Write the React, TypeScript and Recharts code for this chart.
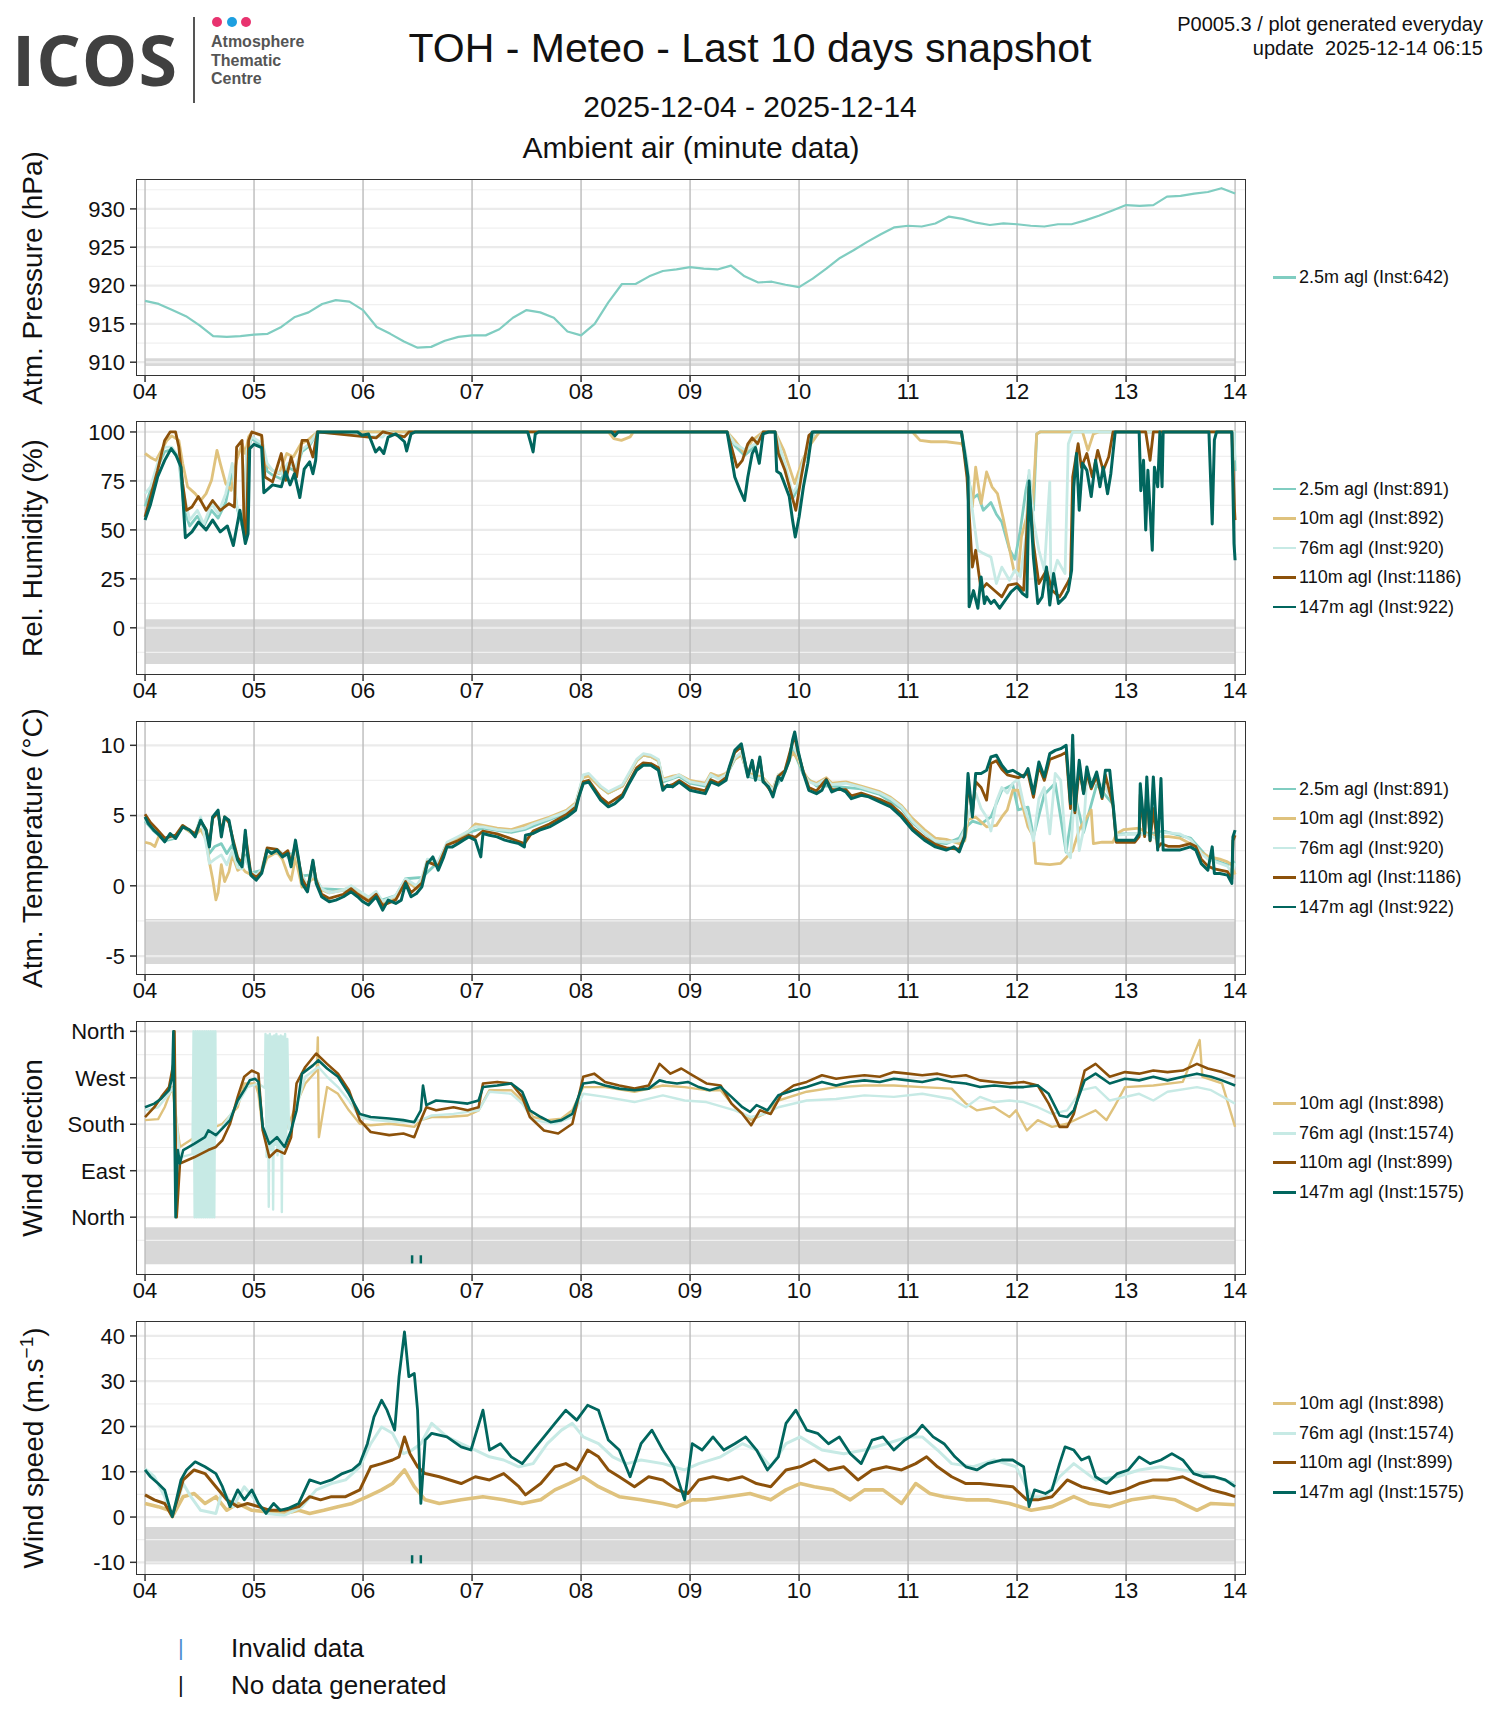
import React from "react";
import {
  LineChart,
  Line,
  XAxis,
  YAxis,
  ReferenceLine,
  ReferenceArea,
} from "recharts";

// ---- axis ticks / labels ----
const DAY_TICKS = [0, 1, 2, 3, 4, 5, 6, 7, 8, 9, 10];
const DAY_LABELS = ["04", "05", "06", "07", "08", "09", "10", "11", "12", "13", "14"];
const WD_TICKS = [0, 90, 180, 270, 360];
const WD_LABELS = ["North", "East", "South", "West", "North"];

// colours per height (BrBG)
const C25 = "#80cdc1";
const C10 = "#dfc27d";
const C76 = "#c7eae5";
const C110 = "#8c510a";
const C147 = "#01665e";

// ---- Atm. pressure (hPa), [day, value] ----
const P_25 = [
  [0, 918.0], [0.125, 917.6], [0.25, 916.8], [0.375, 916.0], [0.5, 914.8], [0.625, 913.4], [0.75, 913.3],
  [0.875, 913.4], [1.0, 913.6], [1.125, 913.7], [1.25, 914.6], [1.375, 915.9], [1.5, 916.5], [1.625, 917.6],
  [1.75, 918.1], [1.875, 917.9], [2.0, 916.8], [2.125, 914.6], [2.25, 913.7], [2.375, 912.7], [2.5, 911.9],
  [2.625, 912.0], [2.75, 912.8], [2.875, 913.3], [3.0, 913.5], [3.125, 913.5], [3.25, 914.3], [3.375, 915.8],
  [3.5, 916.8], [3.625, 916.5], [3.75, 915.8], [3.875, 914.0], [4.0, 913.5], [4.125, 915.0], [4.25, 917.8],
  [4.375, 920.2], [4.5, 920.2], [4.625, 921.2], [4.75, 921.9], [4.875, 922.1], [5.0, 922.4], [5.125, 922.2],
  [5.25, 922.1], [5.375, 922.6], [5.5, 921.2], [5.625, 920.4], [5.75, 920.5], [5.875, 920.1], [6.0, 919.8],
  [6.125, 920.9], [6.25, 922.2], [6.375, 923.6], [6.5, 924.6], [6.625, 925.7], [6.75, 926.7], [6.875, 927.6],
  [7.0, 927.8], [7.125, 927.7], [7.25, 928.1], [7.375, 929.0], [7.5, 928.7], [7.625, 928.2], [7.75, 927.9],
  [7.875, 928.1], [8.0, 928.0], [8.125, 927.8], [8.25, 927.7], [8.375, 928.0], [8.5, 928.0], [8.625, 928.5],
  [8.75, 929.1], [8.875, 929.8], [9.0, 930.5], [9.125, 930.4], [9.25, 930.5], [9.375, 931.6], [9.5, 931.7],
  [9.625, 932.0], [9.75, 932.2], [9.875, 932.7], [10.0, 932.0],
];

// ---- Rel. humidity (%) ----
const RH_25 = [
  [0, 62], [0.05, 70], [0.115, 82], [0.18, 90], [0.245, 91], [0.31, 86], [0.36, 60], [0.41, 52], [0.48, 57],
  [0.54, 52], [0.61, 60], [0.67, 56], [0.74, 64], [0.8, 80], [0.84, 62], [0.9, 50], [0.935, 90], [0.98, 97],
  [1.08, 92], [1.12, 80], [1.17, 78], [1.25, 76], [1.31, 82], [1.38, 80], [1.44, 90], [1.51, 93], [1.58, 100],
  [5.34, 100], [5.41, 93], [5.5, 88], [5.6, 93], [5.67, 100], [5.78, 100], [5.87, 82], [5.94, 66], [5.98, 70],
  [6.04, 84], [6.11, 95], [6.14, 100], [7.49, 100], [7.54, 80], [7.59, 66], [7.64, 68], [7.69, 60], [7.76, 64],
  [7.81, 58], [7.86, 54], [7.93, 40], [7.98, 35], [8.03, 50], [8.08, 70], [8.11, 78], [8.15, 60], [8.18, 99],
  [8.21, 100], [9.99, 100], [10.0, 80],
];
const RH_10 = [
  [0, 89], [0.05, 87], [0.1, 85.5], [0.15, 90.6], [0.2, 95.7], [0.245, 98], [0.31, 95.7], [0.345, 84], [0.39, 72],
  [0.46, 68.5], [0.51, 65], [0.56, 68.5], [0.61, 75.3], [0.66, 90.6], [0.69, 84], [0.74, 73.6], [0.79, 70.2],
  [0.84, 85.5], [0.89, 94], [0.92, 89], [0.95, 97.5], [0.98, 100], [1.07, 98], [1.1, 84], [1.17, 80.4],
  [1.23, 78.7], [1.3, 89], [1.36, 87.2], [1.43, 94], [1.49, 95.7], [1.58, 100], [4.25, 100], [4.3, 96.6],
  [4.37, 95.7], [4.45, 97.5], [4.48, 100], [5.34, 100], [5.41, 95.7], [5.5, 89], [5.57, 95.7], [5.67, 100],
  [5.78, 100], [5.86, 90.6], [5.96, 73.6], [6.03, 85.5], [6.11, 94], [6.16, 98], [6.19, 100], [7.04, 100],
  [7.11, 95.7], [7.21, 95], [7.35, 95], [7.49, 94], [7.52, 90.6], [7.55, 77], [7.59, 61.7], [7.62, 82],
  [7.67, 63.4], [7.72, 79.6], [7.77, 72], [7.82, 68.5], [7.87, 56.6], [7.92, 43], [7.97, 29.4], [8.01, 27.7],
  [8.04, 46.4], [8.08, 55], [8.11, 61.7], [8.14, 60], [8.18, 99], [8.21, 100], [8.6, 100], [8.65, 90.6],
  [8.7, 99], [8.75, 100], [10.0, 100],
];
const RH_76 = [
  [0, 68.5], [0.05, 72], [0.115, 84], [0.18, 92.3], [0.245, 92.3], [0.31, 87.2], [0.36, 67], [0.41, 55],
  [0.48, 60], [0.54, 53], [0.61, 63.4], [0.67, 58.3], [0.74, 68.5], [0.8, 84], [0.84, 63], [0.9, 51.5],
  [0.935, 90.6], [0.98, 97.5], [1.08, 94], [1.12, 84], [1.17, 80.4], [1.25, 78.7], [1.31, 84], [1.38, 82],
  [1.44, 91], [1.51, 94], [1.58, 100], [2.18, 97.4], [2.22, 100], [2.38, 97.5], [2.42, 100], [5.34, 100],
  [5.41, 94], [5.5, 91], [5.6, 94], [5.67, 100], [5.78, 100], [5.87, 84], [5.94, 68.5], [5.98, 72], [6.04, 85.5],
  [6.11, 96], [6.14, 100], [7.49, 100], [7.54, 85.5], [7.59, 60], [7.64, 39.6], [7.69, 38], [7.76, 36.2],
  [7.81, 22.6], [7.86, 31], [7.93, 24.3], [7.98, 29.4], [8.03, 26], [8.08, 46.4], [8.11, 80.4], [8.15, 55],
  [8.2, 39.6], [8.25, 29.4], [8.3, 74.5], [8.31, 22.6], [8.37, 34.5], [8.44, 27.7], [8.47, 94], [8.51, 100],
  [9.99, 100], [10.0, 85.5],
];
const RH_110 = [
  [0, 56.6], [0.05, 67], [0.115, 80.4], [0.18, 95.7], [0.23, 100], [0.28, 100], [0.31, 92.3], [0.345, 73.6],
  [0.38, 60], [0.43, 61.7], [0.49, 67], [0.56, 60], [0.62, 65], [0.69, 60], [0.77, 63.4], [0.82, 61.7],
  [0.84, 92.3], [0.89, 95.7], [0.91, 50], [0.93, 46.4], [0.95, 95.7], [0.98, 100], [1.07, 98.3], [1.1, 77],
  [1.17, 74.5], [1.25, 89], [1.29, 75.3], [1.34, 87.2], [1.39, 77], [1.44, 95.7], [1.49, 95.7], [1.54, 87.2],
  [1.58, 100], [2.12, 97], [2.18, 100], [2.38, 97.5], [2.42, 100], [5.34, 100], [5.38, 92.3], [5.43, 82],
  [5.48, 85.5], [5.53, 94], [5.57, 97], [5.62, 94], [5.67, 100], [5.78, 100], [5.81, 89], [5.87, 80.4],
  [5.92, 70.2], [5.97, 60], [6.02, 77], [6.09, 98.3], [6.13, 100], [7.49, 100], [7.54, 77], [7.59, 31],
  [7.62, 39.6], [7.67, 19.2], [7.72, 22.6], [7.79, 19.2], [7.86, 15.8], [7.92, 21.8], [7.996, 22.6],
  [8.06, 19.2], [8.11, 72], [8.15, 43], [8.2, 22.6], [8.27, 29.4], [8.32, 19.2], [8.39, 15.8], [8.46, 22.6],
  [8.49, 26], [8.51, 77], [8.56, 94], [8.59, 82], [8.64, 89], [8.69, 77], [8.74, 90.6], [8.79, 80.4],
  [8.84, 87.2], [8.88, 100], [9.18, 100], [9.22, 85.5], [9.25, 100], [9.97, 100], [9.995, 60], [10.0, 55],
];
const RH_147 = [
  [0, 55], [0.05, 63], [0.115, 77], [0.18, 85.5], [0.24, 91.5], [0.285, 88], [0.33, 82], [0.37, 46], [0.43, 49],
  [0.49, 54], [0.56, 50], [0.62, 55], [0.69, 49], [0.755, 52], [0.81, 42], [0.87, 60], [0.92, 43], [0.945, 48],
  [0.96, 91.5], [1.0, 93.7], [1.07, 92], [1.09, 69], [1.17, 73], [1.25, 72], [1.29, 79.6], [1.33, 73],
  [1.37, 78.7], [1.42, 66.5], [1.46, 81], [1.51, 84.7], [1.54, 78.7], [1.565, 85.5], [1.585, 100], [1.95, 100],
  [1.99, 98.3], [2.05, 99], [2.115, 89.8], [2.15, 92], [2.19, 89], [2.23, 97.4], [2.3, 99], [2.38, 95],
  [2.4, 90.3], [2.44, 99], [2.48, 100], [3.51, 100], [3.54, 94], [3.56, 89.8], [3.58, 99], [3.61, 100],
  [4.28, 100], [4.31, 98], [4.34, 100], [5.34, 100], [5.38, 87], [5.41, 77], [5.46, 70], [5.5, 65], [5.53, 77],
  [5.57, 89], [5.6, 92], [5.635, 84], [5.67, 99], [5.72, 100], [5.78, 100], [5.795, 80], [5.83, 78.7],
  [5.86, 74.5], [5.91, 67], [5.94, 55], [5.965, 46.4], [6.0, 56.6], [6.04, 72], [6.08, 84], [6.12, 100],
  [7.49, 100], [7.52, 89], [7.55, 77], [7.56, 10.7], [7.6, 19], [7.64, 10], [7.67, 26], [7.7, 12.4],
  [7.72, 15.8], [7.76, 12.4], [7.79, 14], [7.84, 10], [7.89, 14], [7.945, 18.4], [8.0, 21], [8.05, 17.5],
  [8.09, 15.8], [8.11, 75], [8.15, 36], [8.19, 12.4], [8.23, 15.8], [8.27, 31], [8.3, 11.6], [8.335, 27.7],
  [8.38, 12.4], [8.44, 15.8], [8.47, 19], [8.5, 29.4], [8.52, 72], [8.545, 89], [8.57, 60], [8.6, 84],
  [8.64, 80.4], [8.68, 67], [8.72, 85.5], [8.76, 72], [8.79, 82], [8.83, 68.5], [8.86, 78.7], [8.9, 100],
  [9.12, 100], [9.135, 70], [9.16, 85.5], [9.18, 50], [9.2, 80.4], [9.24, 39.6], [9.26, 82], [9.29, 72],
  [9.31, 100], [9.33, 72], [9.34, 100], [9.76, 100], [9.79, 53], [9.81, 96], [9.83, 100], [9.97, 100],
  [9.99, 43], [10.0, 34.5],
];

// ---- Atm. temperature (°C) ----
const T_25 = [
  [0, 4.6], [0.08, 3.9], [0.18, 3.2], [0.28, 3.4], [0.345, 4.2], [0.46, 3.6], [0.51, 4.8], [0.56, 3.4],
  [0.59, 2.3], [0.64, 2.8], [0.7, 3.0], [0.75, 2.3], [0.8, 2.9], [0.85, 1.4], [0.92, 2.2], [0.97, 0.9],
  [1.07, 1.1], [1.12, 2.5], [1.26, 2.2], [1.38, 2.3], [1.44, 0.7], [1.54, 0.8], [1.62, -0.2], [1.82, -0.3],
  [2.05, -0.8], [2.18, -1.0], [2.3, -0.7], [2.39, 0.5], [2.54, 0.6], [2.69, 1.7], [2.77, 3.0], [2.97, 3.8],
  [3.1, 4.1], [3.36, 3.8], [3.48, 4.0], [3.71, 4.7], [3.87, 5.2], [3.95, 5.7], [4.02, 7.8], [4.07, 7.9],
  [4.18, 7.0], [4.25, 6.6], [4.38, 7.1], [4.51, 8.9], [4.57, 9.3], [4.64, 9.2], [4.71, 8.9], [4.75, 7.4],
  [4.9, 7.8], [5.0, 7.3], [5.14, 7.1], [5.19, 7.8], [5.33, 7.8], [5.41, 9.0], [5.47, 9.4], [5.53, 7.8],
  [5.67, 7.5], [5.76, 6.7], [5.87, 8.1], [5.94, 9.8], [6.04, 7.9], [6.16, 7.1], [6.3, 7.1], [6.57, 6.9],
  [6.74, 6.5], [6.94, 5.5], [7.04, 4.5], [7.25, 3.1], [7.35, 3.0], [7.47, 3.4], [7.52, 4.1], [7.59, 4.6],
  [7.67, 4.4], [7.76, 4.9], [7.86, 6.8], [7.96, 7.2], [8.01, 5.4], [8.1, 5.6], [8.15, 3.5], [8.25, 6.5],
  [8.35, 7.3], [8.45, 2.4], [8.53, 6.5], [8.61, 3.8], [8.73, 7.2], [8.88, 5.8], [8.91, 3.7], [9.22, 3.7],
  [9.34, 3.9], [9.59, 3.4], [9.75, 2.0], [9.93, 1.5], [10.0, 1.7],
];
const T_10 = [
  [0, 3.1], [0.05, 3.0], [0.09, 2.8], [0.13, 3.6], [0.18, 3.3], [0.28, 3.5], [0.345, 4.2], [0.46, 3.6],
  [0.51, 4.0], [0.56, 3.3], [0.59, 1.7], [0.62, 0.5], [0.65, -1.0], [0.67, -0.5], [0.7, 1.5], [0.73, 0.3],
  [0.77, 1.0], [0.8, 2.2], [0.85, 1.1], [0.89, 1.3], [0.92, 1.0], [0.97, 0.8], [1.02, 0.6], [1.07, 1.0],
  [1.12, 2.0], [1.21, 2.4], [1.26, 1.9], [1.31, 0.8], [1.34, 0.4], [1.38, 2.0], [1.44, -0.1], [1.49, 0.2],
  [1.54, 0.5], [1.57, 0.4], [1.62, -0.3], [1.69, -0.5], [1.82, -0.3], [1.89, -0.1], [1.95, -0.4], [2.05, -0.9],
  [2.12, -0.5], [2.18, -1.2], [2.3, -0.8], [2.39, 0.4], [2.49, -0.2], [2.54, 0.4], [2.59, 1.8], [2.69, 1.6],
  [2.77, 3.0], [2.87, 3.4], [2.97, 3.9], [3.03, 4.4], [3.1, 4.3], [3.23, 4.1], [3.36, 4.0], [3.48, 4.3],
  [3.56, 4.5], [3.71, 4.9], [3.87, 5.4], [3.95, 5.9], [4.02, 7.7], [4.07, 7.8], [4.18, 7.0], [4.25, 6.6],
  [4.38, 7.1], [4.51, 8.9], [4.57, 9.3], [4.64, 9.2], [4.71, 8.9], [4.75, 7.6], [4.84, 7.8], [4.9, 7.9],
  [5.0, 7.5], [5.14, 7.3], [5.19, 8.0], [5.26, 7.8], [5.33, 8.0], [5.41, 9.0], [5.47, 9.3], [5.53, 8.0],
  [5.6, 7.9], [5.67, 7.7], [5.76, 6.9], [5.81, 7.9], [5.87, 8.1], [5.94, 9.5], [5.99, 9.0], [6.04, 8.1],
  [6.09, 7.5], [6.16, 7.3], [6.25, 7.7], [6.3, 7.3], [6.43, 7.4], [6.57, 7.1], [6.74, 6.7], [6.84, 6.3],
  [6.94, 5.7], [7.04, 4.8], [7.15, 4.0], [7.25, 3.4], [7.35, 3.3], [7.47, 3.0], [7.52, 3.2], [7.55, 4.7],
  [7.62, 4.9], [7.72, 4.2], [7.81, 4.3], [7.86, 4.9], [7.91, 5.4], [7.96, 6.8], [8.01, 6.8], [8.06, 5.4],
  [8.1, 4.2], [8.15, 3.5], [8.17, 1.6], [8.3, 1.5], [8.4, 1.6], [8.51, 2.5], [8.57, 4.0], [8.68, 5.4],
  [8.7, 3.0], [8.78, 3.1], [8.88, 3.1], [8.91, 3.7], [8.98, 4.0], [9.12, 4.1], [9.22, 3.6], [9.32, 3.5],
  [9.39, 3.5], [9.49, 3.4], [9.59, 3.0], [9.69, 2.4], [9.75, 2.1], [9.86, 1.9], [9.93, 1.7], [9.97, 1.5],
  [10.0, 0.8],
];
const T_76 = [
  [0, 4.7], [0.08, 4.0], [0.18, 3.3], [0.28, 3.5], [0.345, 4.3], [0.46, 3.7], [0.51, 4.9], [0.56, 3.0],
  [0.59, 1.6], [0.64, 1.9], [0.7, 2.2], [0.75, 1.5], [0.8, 2.5], [0.85, 1.3], [0.89, 1.2], [0.92, 2.0],
  [0.97, 1.0], [1.02, 0.7], [1.07, 1.2], [1.12, 2.6], [1.21, 2.6], [1.26, 2.3], [1.31, 2.0], [1.38, 2.4],
  [1.44, 0.8], [1.49, 0.0], [1.54, 0.9], [1.62, -0.2], [1.69, -0.5], [1.82, -0.3], [1.89, 0.0], [1.95, -0.3],
  [2.05, -0.8], [2.12, -0.4], [2.18, -1.1], [2.3, -0.7], [2.39, 0.5], [2.49, 0.0], [2.54, 0.6], [2.59, 1.9],
  [2.69, 1.7], [2.77, 3.1], [2.87, 3.5], [2.97, 3.9], [3.03, 4.2], [3.1, 4.2], [3.23, 4.0], [3.36, 3.9],
  [3.48, 4.1], [3.56, 4.4], [3.71, 4.8], [3.87, 5.3], [3.95, 5.8], [4.02, 7.9], [4.07, 8.0], [4.18, 7.1],
  [4.25, 6.7], [4.38, 7.2], [4.51, 9.0], [4.57, 9.4], [4.64, 9.3], [4.71, 9.0], [4.75, 7.5], [4.84, 7.7],
  [4.9, 7.9], [5.0, 7.4], [5.14, 7.2], [5.19, 7.9], [5.26, 7.6], [5.33, 7.9], [5.41, 9.1], [5.47, 9.5],
  [5.53, 7.9], [5.6, 7.7], [5.67, 7.6], [5.76, 6.8], [5.81, 7.9], [5.87, 8.2], [5.94, 10.0], [5.99, 9.3],
  [6.04, 8.0], [6.09, 7.4], [6.16, 7.2], [6.25, 7.6], [6.3, 7.2], [6.43, 7.3], [6.57, 7.0], [6.74, 6.6],
  [6.84, 6.2], [6.94, 5.6], [7.04, 4.6], [7.15, 3.8], [7.25, 3.2], [7.35, 3.1], [7.47, 3.2], [7.52, 4.0],
  [7.55, 5.0], [7.62, 6.6], [7.67, 5.5], [7.72, 4.9], [7.76, 3.9], [7.81, 6.0], [7.86, 7.0], [7.91, 6.6],
  [7.96, 7.3], [8.01, 7.6], [8.06, 5.8], [8.1, 4.8], [8.15, 3.2], [8.2, 6.2], [8.25, 7.0], [8.3, 3.7],
  [8.35, 8.0], [8.4, 7.5], [8.45, 2.5], [8.49, 2.0], [8.53, 7.0], [8.57, 2.5], [8.61, 4.0], [8.64, 7.8],
  [8.73, 7.4], [8.81, 7.0], [8.88, 6.0], [8.91, 3.6], [9.08, 3.7], [9.22, 3.6], [9.29, 3.3], [9.34, 3.8],
  [9.49, 3.7], [9.59, 3.3], [9.69, 2.3], [9.75, 1.9], [9.86, 1.6], [9.93, 1.4], [9.97, 0.9], [10.0, 1.6],
];
const T_110 = [
  [0, 5.1], [0.05, 4.5], [0.1, 4.1], [0.18, 3.4], [0.28, 3.6], [0.345, 4.3], [0.46, 3.7], [0.51, 4.6],
  [0.56, 4.0], [0.59, 3.0], [0.62, 4.8], [0.67, 5.2], [0.7, 3.8], [0.73, 4.9], [0.77, 4.5], [0.81, 3.2],
  [0.85, 2.0], [0.89, 1.6], [0.92, 3.7], [0.97, 0.9], [1.02, 0.6], [1.07, 1.0], [1.12, 2.7], [1.21, 2.6],
  [1.26, 2.2], [1.31, 2.5], [1.34, 1.6], [1.38, 3.0], [1.44, 0.5], [1.49, -0.2], [1.54, 1.7], [1.57, 0.4],
  [1.62, -0.6], [1.69, -0.9], [1.82, -0.6], [1.89, -0.2], [1.95, -0.6], [2.05, -1.1], [2.12, -0.6],
  [2.18, -1.4], [2.3, -1.0], [2.39, 0.3], [2.44, -0.5], [2.54, 0.2], [2.59, 1.7], [2.69, 1.4], [2.77, 2.9],
  [2.87, 3.2], [2.97, 3.6], [3.03, 3.45], [3.1, 3.9], [3.23, 3.7], [3.36, 3.35], [3.48, 3.0], [3.56, 3.9],
  [3.71, 4.4], [3.87, 5.1], [3.95, 5.6], [4.02, 7.4], [4.07, 7.5], [4.18, 6.3], [4.25, 5.85], [4.38, 6.5],
  [4.51, 8.4], [4.57, 8.75], [4.64, 8.7], [4.71, 8.4], [4.75, 7.0], [4.84, 7.2], [4.9, 7.5], [5.0, 7.0],
  [5.14, 6.75], [5.19, 7.55], [5.26, 7.3], [5.33, 7.7], [5.41, 9.5], [5.47, 9.9], [5.5, 8.9], [5.53, 7.9],
  [5.57, 8.8], [5.6, 7.6], [5.64, 9.0], [5.67, 7.5], [5.76, 6.5], [5.81, 7.8], [5.87, 8.2], [5.94, 10.2],
  [5.96, 10.6], [5.99, 9.5], [6.04, 8.1], [6.09, 7.0], [6.16, 6.75], [6.25, 7.6], [6.3, 6.85], [6.43, 6.85],
  [6.48, 6.4], [6.57, 6.6], [6.74, 6.15], [6.84, 5.8], [6.94, 5.1], [7.04, 4.15], [7.15, 3.45], [7.25, 2.95],
  [7.35, 2.7], [7.47, 2.6], [7.52, 3.6], [7.55, 7.3], [7.59, 5.2], [7.62, 7.4], [7.67, 7.0], [7.72, 6.1],
  [7.76, 8.7], [7.81, 8.9], [7.86, 8.3], [7.91, 7.9], [8.01, 7.7], [8.1, 8.0], [8.15, 6.3], [8.2, 8.5],
  [8.25, 7.5], [8.3, 9.0], [8.4, 9.3], [8.45, 9.5], [8.49, 5.5], [8.51, 9.8], [8.53, 5.2], [8.57, 8.3],
  [8.61, 6.6], [8.64, 8.0], [8.68, 6.9], [8.73, 7.8], [8.78, 6.2], [8.81, 7.9], [8.88, 5.7], [8.91, 3.1],
  [9.08, 3.1], [9.12, 3.5], [9.13, 6.5], [9.17, 3.5], [9.19, 6.9], [9.22, 3.2], [9.25, 5.5], [9.29, 2.7],
  [9.32, 3.0], [9.39, 2.8], [9.49, 2.8], [9.59, 3.0], [9.64, 2.8], [9.69, 1.9], [9.75, 1.4], [9.81, 1.2],
  [9.93, 1.0], [9.97, 0.5], [9.98, 3.2], [10.0, 3.6],
];
const T_147 = [
  [0, 4.9], [0.03, 4.43], [0.08, 3.96], [0.13, 3.6], [0.18, 3.13], [0.23, 3.72], [0.28, 3.37], [0.345, 4.19],
  [0.41, 3.96], [0.46, 3.48], [0.51, 4.67], [0.56, 3.96], [0.59, 2.77], [0.62, 4.9], [0.67, 5.38], [0.7, 3.48],
  [0.73, 4.9], [0.77, 4.67], [0.81, 3.0], [0.85, 1.82], [0.89, 1.35], [0.92, 3.96], [0.935, 2.54], [0.97, 0.76],
  [1.02, 0.4], [1.07, 0.88], [1.12, 2.54], [1.16, 2.3], [1.21, 2.54], [1.26, 2.06], [1.31, 2.3], [1.34, 1.35],
  [1.38, 3.25], [1.41, 1.82], [1.44, 0.17], [1.49, -0.43], [1.54, 1.82], [1.57, 0.17], [1.62, -0.78],
  [1.69, -1.14], [1.75, -1.02], [1.82, -0.78], [1.89, -0.43], [1.95, -0.78], [2.0, -1.14], [2.05, -1.37],
  [2.12, -0.78], [2.18, -1.73], [2.23, -1.02], [2.3, -1.26], [2.35, -1.02], [2.39, 0.17], [2.44, -0.78],
  [2.49, -0.55], [2.54, -0.07], [2.59, 1.58], [2.64, 2.06], [2.69, 1.11], [2.74, 2.06], [2.77, 2.77],
  [2.82, 2.77], [2.87, 3.0], [2.92, 3.25], [2.97, 3.48], [3.03, 3.25], [3.08, 2.06], [3.1, 3.72], [3.16, 3.6],
  [3.23, 3.48], [3.3, 3.25], [3.36, 3.13], [3.43, 3.0], [3.48, 2.77], [3.49, 3.6], [3.56, 3.72], [3.62, 3.96],
  [3.71, 4.19], [3.79, 4.55], [3.87, 4.9], [3.95, 5.38], [3.98, 6.33], [4.02, 7.27], [4.07, 7.39], [4.12, 6.8],
  [4.18, 6.09], [4.25, 5.62], [4.31, 5.85], [4.38, 6.33], [4.44, 7.27], [4.51, 8.22], [4.57, 8.58],
  [4.64, 8.58], [4.71, 8.22], [4.75, 6.8], [4.79, 7.16], [4.84, 7.04], [4.9, 7.39], [5.0, 6.8], [5.07, 6.68],
  [5.14, 6.56], [5.19, 7.39], [5.26, 7.16], [5.33, 7.51], [5.36, 8.46], [5.41, 9.64], [5.47, 10.1],
  [5.5, 8.93], [5.53, 7.75], [5.57, 8.93], [5.6, 7.51], [5.64, 9.17], [5.67, 7.39], [5.72, 7.04], [5.76, 6.33],
  [5.81, 7.75], [5.84, 7.51], [5.87, 8.1], [5.91, 8.93], [5.94, 10.36], [5.96, 10.95], [5.99, 9.64],
  [6.04, 7.99], [6.09, 6.8], [6.16, 6.56], [6.21, 6.8], [6.25, 7.51], [6.3, 6.68], [6.37, 6.92], [6.43, 6.68],
  [6.48, 6.2], [6.57, 6.44], [6.64, 6.33], [6.74, 5.97], [6.84, 5.62], [6.94, 4.9], [7.04, 3.96], [7.15, 3.25],
  [7.25, 2.77], [7.35, 2.54], [7.42, 2.77], [7.47, 2.42], [7.52, 3.48], [7.55, 7.99], [7.59, 4.9], [7.62, 7.99],
  [7.67, 7.99], [7.72, 8.22], [7.76, 9.17], [7.81, 9.29], [7.86, 8.58], [7.91, 8.1], [7.96, 8.22], [8.01, 7.99],
  [8.06, 7.75], [8.1, 8.34], [8.15, 6.56], [8.2, 8.81], [8.25, 7.75], [8.3, 9.41], [8.35, 9.64], [8.4, 9.76],
  [8.45, 10.0], [8.49, 5.85], [8.51, 10.71], [8.53, 5.38], [8.57, 8.93], [8.61, 6.56], [8.64, 8.46],
  [8.68, 7.04], [8.73, 8.1], [8.78, 6.33], [8.81, 8.22], [8.85, 8.22], [8.88, 5.85], [8.91, 3.25], [8.98, 3.25],
  [9.08, 3.25], [9.12, 3.72], [9.13, 7.27], [9.17, 3.72], [9.19, 7.75], [9.22, 3.25], [9.25, 7.75], [9.29, 2.54],
  [9.32, 7.63], [9.34, 2.54], [9.39, 2.54], [9.49, 2.54], [9.59, 2.77], [9.64, 2.54], [9.69, 1.58], [9.75, 1.11],
  [9.79, 2.77], [9.81, 0.88], [9.86, 0.88], [9.93, 0.76], [9.97, 0.17], [9.98, 3.48], [10.0, 3.96],
];

// ---- Wind direction (degrees, 0 = North) ----
const WD_10 = [
  [0, 188], [0.12, 190], [0.18, 213], [0.25, 252], [0.28, 200], [0.32, 136], [0.51, 162], [0.71, 181],
  [0.85, 213], [0.91, 259], [1.01, 259], [1.04, 239], [1.08, 168], [1.18, 155], [1.31, 175], [1.39, 220],
  [1.47, 259], [1.575, 284], [1.585, 348], [1.595, 155], [1.67, 252], [1.77, 239], [1.87, 207], [1.97, 181],
  [2.07, 178], [2.24, 181], [2.37, 178], [2.47, 175], [2.53, 188], [2.63, 194], [2.77, 194], [2.96, 197],
  [3.06, 207], [3.16, 246], [3.36, 246], [3.46, 226], [3.56, 194], [3.69, 188], [3.82, 191], [3.92, 207],
  [4.02, 252], [4.22, 252], [4.49, 243], [4.75, 255], [4.95, 252], [5.15, 246], [5.28, 246], [5.41, 213],
  [5.56, 188], [5.68, 200], [5.81, 226], [6.07, 243], [6.34, 252], [6.6, 255], [6.87, 255], [7.13, 252],
  [7.4, 249], [7.53, 220], [7.63, 207], [7.79, 213], [7.93, 194], [7.99, 207], [8.09, 168], [8.19, 188],
  [8.32, 175], [8.46, 181], [8.59, 194], [8.72, 207], [8.82, 188], [8.89, 213], [8.99, 252], [9.25, 255],
  [9.52, 262], [9.675, 343], [9.7, 272], [9.88, 259], [10.0, 175],
];
const WD_76 = [
  [0, 207], [0.12, 213], [0.22, 239], [0.26, 252], [0.32, 116], [0.435, 122],
  [0.445, 360], [0.455, 0], [0.465, 360], [0.475, 0], [0.485, 360], [0.495, 0], [0.505, 360], [0.515, 0],
  [0.525, 360], [0.535, 0], [0.545, 360], [0.555, 0], [0.565, 360], [0.575, 0], [0.585, 360], [0.595, 0],
  [0.605, 360], [0.615, 0], [0.625, 360], [0.635, 0], [0.645, 360], [0.65, 155],
  [0.71, 175], [0.85, 220], [0.94, 252], [1.04, 259], [1.1, 250],
  [1.105, 355], [1.115, 117], [1.125, 352], [1.135, 20], [1.145, 355], [1.155, 130], [1.165, 350], [1.175, 15],
  [1.185, 352], [1.195, 140], [1.205, 355], [1.215, 120], [1.225, 350], [1.235, 130], [1.245, 352], [1.255, 10],
  [1.265, 350], [1.275, 145], [1.285, 355], [1.295, 150], [1.305, 345], [1.32, 170],
  [1.39, 213], [1.47, 272], [1.59, 291], [1.67, 272], [1.77, 252], [1.87, 226], [1.97, 194], [2.1, 188],
  [2.37, 184], [2.53, 188], [2.63, 197], [2.83, 200], [3.06, 207], [3.16, 243], [3.36, 239], [3.46, 220],
  [3.56, 188], [3.76, 181], [3.92, 194], [4.02, 239], [4.22, 233], [4.49, 223], [4.75, 236], [4.95, 226],
  [5.15, 223], [5.41, 207], [5.56, 194], [5.68, 200], [5.81, 213], [6.07, 226], [6.34, 229], [6.6, 236],
  [6.87, 233], [7.13, 239], [7.4, 229], [7.53, 213], [7.66, 233], [7.79, 223], [7.93, 226], [8.06, 223],
  [8.19, 213], [8.32, 200], [8.46, 207], [8.59, 246], [8.72, 252], [8.85, 226], [9.12, 239], [9.25, 226],
  [9.38, 243], [9.65, 252], [9.78, 246], [10.0, 220],
];
const WD_110 = [
  [0, 194], [0.085, 213], [0.15, 233], [0.22, 252], [0.26, 297], [0.27, 360], [0.29, 0], [0.32, 104],
  [0.45, 116], [0.58, 130], [0.65, 136], [0.71, 149], [0.78, 181], [0.85, 233], [0.91, 272], [0.98, 284],
  [1.04, 278], [1.08, 168], [1.14, 116], [1.21, 130], [1.28, 123], [1.34, 155], [1.39, 259], [1.47, 291],
  [1.57, 317], [1.67, 297], [1.77, 278], [1.87, 246], [1.97, 188], [2.07, 165], [2.24, 159], [2.37, 162],
  [2.47, 155], [2.53, 188], [2.58, 213], [2.67, 207], [2.83, 213], [2.96, 207], [3.06, 213], [3.1, 259],
  [3.23, 262], [3.36, 259], [3.46, 233], [3.53, 194], [3.66, 168], [3.79, 162], [3.92, 181], [4.02, 272],
  [4.12, 278], [4.22, 262], [4.35, 255], [4.49, 249], [4.62, 255], [4.72, 297], [4.82, 278], [4.92, 288],
  [5.02, 275], [5.15, 259], [5.28, 255], [5.38, 220], [5.48, 200], [5.56, 178], [5.64, 207], [5.74, 200],
  [5.84, 239], [5.95, 255], [6.07, 262], [6.21, 275], [6.34, 268], [6.47, 272], [6.6, 275], [6.74, 272],
  [6.87, 281], [7.0, 278], [7.13, 275], [7.27, 278], [7.4, 272], [7.53, 275], [7.66, 265], [7.79, 262],
  [7.93, 259], [8.06, 262], [8.19, 255], [8.29, 220], [8.39, 175], [8.46, 175], [8.52, 200], [8.62, 284],
  [8.72, 297], [8.85, 272], [8.99, 281], [9.12, 278], [9.25, 284], [9.38, 281], [9.52, 284], [9.65, 297],
  [9.75, 288], [9.88, 281], [10.0, 272],
];
const WD_147 = [
  [0, 213], [0.085, 220], [0.15, 230], [0.22, 246], [0.25, 272], [0.26, 360], [0.28, 0], [0.3, 130],
  [0.32, 104], [0.35, 130], [0.45, 142], [0.55, 155], [0.58, 168], [0.65, 159], [0.71, 172], [0.78, 188],
  [0.85, 226], [0.91, 246], [0.96, 265], [1.01, 268], [1.04, 262], [1.08, 175], [1.14, 142], [1.21, 155],
  [1.28, 136], [1.34, 168], [1.39, 207], [1.44, 278], [1.54, 294], [1.59, 304], [1.67, 288], [1.77, 272],
  [1.87, 239], [1.97, 200], [2.07, 194], [2.24, 191], [2.37, 188], [2.47, 184], [2.53, 207], [2.55, 255],
  [2.58, 217], [2.67, 226], [2.83, 223], [2.96, 220], [3.06, 226], [3.1, 252], [3.23, 255], [3.36, 259],
  [3.46, 243], [3.53, 207], [3.63, 194], [3.72, 184], [3.82, 188], [3.92, 200], [4.02, 259], [4.12, 262],
  [4.22, 255], [4.35, 249], [4.49, 246], [4.62, 249], [4.72, 265], [4.78, 262], [4.88, 259], [4.98, 262],
  [5.08, 252], [5.18, 246], [5.28, 252], [5.38, 233], [5.48, 213], [5.55, 204], [5.61, 217], [5.71, 207],
  [5.81, 236], [5.95, 246], [6.07, 252], [6.21, 262], [6.34, 255], [6.47, 262], [6.6, 265], [6.74, 262],
  [6.87, 268], [7.0, 265], [7.13, 262], [7.27, 268], [7.4, 262], [7.53, 259], [7.66, 252], [7.79, 255],
  [7.93, 252], [8.06, 252], [8.19, 255], [8.29, 239], [8.39, 197], [8.46, 194], [8.52, 207], [8.62, 265],
  [8.72, 278], [8.85, 259], [8.99, 268], [9.12, 265], [9.25, 272], [9.38, 265], [9.52, 272], [9.65, 278],
  [9.78, 272], [9.88, 265], [10.0, 255],
];

// ---- Wind speed (m/s) ----
const WS_10 = [
  [0, 3.0], [0.12, 2.3], [0.22, 1.5], [0.25, 0.1], [0.35, 4.5], [0.45, 5.2], [0.55, 3.0], [0.65, 4.5],
  [0.75, 1.5], [0.85, 3.0], [0.98, 1.5], [1.11, 1.2], [1.28, 0.8], [1.41, 1.5], [1.51, 0.8], [1.64, 1.5],
  [1.77, 2.3], [1.9, 3.0], [2.04, 4.5], [2.17, 6.0], [2.27, 7.4], [2.38, 10.4], [2.47, 6.7], [2.57, 3.8],
  [2.7, 3.0], [2.9, 3.8], [3.1, 4.5], [3.29, 3.8], [3.46, 3.0], [3.63, 3.8], [3.76, 6.0], [3.89, 7.4],
  [4.02, 8.9], [4.16, 6.7], [4.35, 4.5], [4.55, 3.8], [4.75, 3.0], [4.88, 2.3], [5.02, 3.8], [5.15, 3.8],
  [5.35, 4.5], [5.55, 5.2], [5.74, 3.8], [5.88, 6.0], [6.01, 7.4], [6.14, 6.7], [6.31, 6.0], [6.47, 3.8],
  [6.6, 6.0], [6.77, 6.0], [6.94, 3.0], [7.07, 7.4], [7.2, 5.2], [7.33, 4.5], [7.53, 3.8], [7.73, 3.8],
  [7.93, 3.0], [8.13, 1.5], [8.32, 2.3], [8.52, 4.5], [8.66, 3.0], [8.85, 2.3], [9.05, 3.8], [9.25, 4.5],
  [9.45, 3.8], [9.65, 1.5], [9.78, 3.0], [10.0, 2.7],
];
const WS_76 = [
  [0, 10.7], [0.085, 8.9], [0.18, 4.5], [0.25, 0.1], [0.35, 7.4], [0.42, 4.5], [0.51, 1.5], [0.65, 0.8],
  [0.71, 6.0], [0.81, 2.3], [0.91, 6.7], [1.01, 3.8], [1.11, 0.8], [1.28, 0.4], [1.44, 2.3], [1.57, 6.0],
  [1.71, 7.4], [1.84, 8.2], [1.97, 11.1], [2.07, 16.2], [2.17, 19.9], [2.27, 18.5], [2.37, 14.0], [2.45, 14.8],
  [2.53, 16.2], [2.63, 20.7], [2.77, 17.7], [2.9, 16.2], [3.03, 14.8], [3.16, 13.3], [3.29, 12.6], [3.43, 11.1],
  [3.56, 11.8], [3.69, 16.2], [3.82, 19.2], [3.92, 20.7], [4.02, 17.7], [4.16, 16.2], [4.29, 13.3],
  [4.42, 11.8], [4.55, 12.6], [4.75, 11.8], [4.95, 10.4], [5.08, 11.8], [5.28, 13.3], [5.48, 16.2],
  [5.61, 14.8], [5.74, 11.1], [5.88, 16.2], [6.01, 17.7], [6.21, 14.8], [6.41, 14.0], [6.6, 14.8], [6.8, 16.2],
  [7.0, 17.7], [7.13, 17.7], [7.27, 14.8], [7.4, 11.8], [7.6, 11.1], [7.79, 12.6], [7.99, 11.1], [8.13, 4.5],
  [8.26, 4.5], [8.39, 8.9], [8.52, 11.8], [8.72, 8.2], [8.92, 8.9], [9.12, 10.4], [9.32, 11.1], [9.52, 10.4],
  [9.71, 9.6], [10.0, 7.4],
];
const WS_110 = [
  [0, 4.9], [0.085, 3.8], [0.18, 3.0], [0.25, 0.1], [0.35, 8.2], [0.45, 10.4], [0.55, 9.6], [0.65, 6.7],
  [0.75, 3.8], [0.85, 2.3], [0.94, 3.0], [1.04, 2.3], [1.14, 1.5], [1.28, 1.5], [1.41, 2.3], [1.51, 4.5],
  [1.61, 3.8], [1.71, 4.5], [1.84, 4.5], [1.97, 6.0], [2.07, 11.1], [2.17, 11.8], [2.27, 12.6], [2.33, 13.3],
  [2.38, 17.7], [2.43, 14.0], [2.5, 11.1], [2.57, 9.6], [2.7, 8.9], [2.9, 7.4], [3.03, 8.9], [3.16, 8.2],
  [3.29, 9.6], [3.43, 6.7], [3.49, 4.9], [3.63, 7.4], [3.76, 11.1], [3.86, 11.8], [3.96, 10.4], [4.06, 14.8],
  [4.16, 13.3], [4.25, 10.4], [4.35, 8.9], [4.49, 6.7], [4.62, 8.9], [4.75, 8.2], [4.88, 6.0], [4.98, 5.2],
  [5.08, 8.2], [5.21, 8.9], [5.35, 8.2], [5.48, 8.9], [5.61, 7.4], [5.74, 6.7], [5.88, 10.4], [6.01, 11.1],
  [6.14, 12.6], [6.27, 10.4], [6.41, 11.1], [6.54, 8.2], [6.67, 10.4], [6.8, 11.1], [6.94, 10.4], [7.07, 11.8],
  [7.17, 13.3], [7.27, 11.1], [7.4, 8.9], [7.53, 7.4], [7.66, 7.4], [7.79, 7.1], [7.96, 6.7], [8.09, 3.8],
  [8.19, 3.8], [8.32, 4.5], [8.46, 8.2], [8.59, 6.7], [8.72, 6.0], [8.85, 5.2], [8.99, 6.0], [9.12, 7.4],
  [9.25, 8.2], [9.38, 8.2], [9.52, 8.9], [9.65, 7.4], [9.78, 6.0], [9.91, 5.2], [10.0, 4.5],
];
const WS_147 = [
  [0, 10.4], [0.05, 8.9], [0.12, 7.4], [0.18, 6.0], [0.25, 0.1], [0.28, 3.0], [0.33, 8.2], [0.38, 10.4],
  [0.46, 12.2], [0.55, 11.1], [0.65, 9.6], [0.71, 6.7], [0.78, 2.3], [0.85, 6.0], [0.91, 3.8], [0.98, 6.0],
  [1.04, 3.0], [1.11, 0.8], [1.18, 3.0], [1.24, 1.5], [1.31, 1.9], [1.41, 3.0], [1.51, 8.2], [1.61, 7.4],
  [1.71, 8.2], [1.81, 9.6], [1.9, 10.4], [1.97, 11.8], [2.04, 16.2], [2.1, 22.1], [2.17, 25.8], [2.22, 23.6],
  [2.29, 19.2], [2.33, 31.0], [2.38, 40.9], [2.42, 31.0], [2.47, 31.7], [2.5, 23.6], [2.53, 3.0], [2.57, 17.0],
  [2.63, 18.5], [2.77, 17.7], [2.9, 15.5], [2.99, 14.8], [3.1, 23.6], [3.16, 14.8], [3.26, 16.2], [3.36, 13.3],
  [3.46, 11.8], [3.56, 14.8], [3.66, 17.7], [3.76, 20.7], [3.86, 23.6], [3.96, 21.4], [4.06, 24.7],
  [4.16, 23.6], [4.25, 17.0], [4.35, 14.8], [4.45, 8.9], [4.55, 16.2], [4.65, 19.2], [4.75, 14.8], [4.85, 11.1],
  [4.95, 3.8], [5.02, 16.2], [5.11, 14.8], [5.21, 17.7], [5.31, 14.8], [5.41, 16.2], [5.51, 17.7], [5.61, 14.8],
  [5.71, 10.4], [5.81, 13.3], [5.88, 20.7], [5.97, 23.6], [6.07, 19.2], [6.17, 18.5], [6.27, 16.2],
  [6.37, 17.7], [6.47, 14.0], [6.57, 11.8], [6.67, 17.0], [6.77, 17.7], [6.87, 14.8], [6.97, 17.0],
  [7.07, 18.5], [7.13, 20.3], [7.23, 17.7], [7.33, 16.2], [7.43, 13.3], [7.53, 11.1], [7.63, 10.4],
  [7.73, 11.8], [7.86, 12.6], [7.96, 12.6], [8.06, 11.1], [8.11, 2.3], [8.16, 6.0], [8.26, 5.2], [8.32, 6.0],
  [8.39, 11.8], [8.44, 15.5], [8.52, 14.8], [8.59, 12.6], [8.66, 13.3], [8.72, 8.9], [8.82, 7.4], [8.92, 9.6],
  [9.02, 10.4], [9.12, 13.3], [9.22, 11.8], [9.32, 12.6], [9.42, 14.0], [9.52, 12.6], [9.62, 9.6], [9.71, 8.9],
  [9.81, 8.9], [9.91, 8.2], [10.0, 6.7],
];

// "no data generated" flags for the 147m wind sensor (day offsets)
const NODATA_147 = [2.45, 2.53];

const pts = (arr) => arr.map(([t, v]) => ({ t, v }));

const FONT = "'Liberation Sans', Arial, Helvetica, sans-serif";
const PLOT_LEFT = 136;
const PLOT_W = 1110;
const X_DOMAIN = [-0.083, 10.1];

function Panel({ top, height, domain, ticks, minor, band, series, label, yFmt, marks, legend }) {
  const chartH = height + 5 + 44;
  const tickStyle = { fontSize: 22, fill: "#111", fontFamily: FONT };
  return (
    <>
      <div style={{ position: "absolute", left: 0, top: top - 5 }}>
        <LineChart width={1500} height={chartH} margin={{ top: 5, right: 254, bottom: 0, left: 0 }}>
          <XAxis
            type="number"
            dataKey="t"
            domain={X_DOMAIN}
            allowDataOverflow
            ticks={DAY_TICKS}
            interval={0}
            tickFormatter={(v) => DAY_LABELS[DAY_TICKS.indexOf(v)] ?? ""}
            axisLine={false}
            tickLine={{ stroke: "#333", strokeWidth: 1.5 }}
            tickSize={6}
            tickMargin={1}
            height={44}
            tick={tickStyle}
          />
          <YAxis
            type="number"
            dataKey="v"
            domain={domain}
            allowDataOverflow
            ticks={ticks}
            interval={0}
            tickFormatter={yFmt}
            axisLine={false}
            tickLine={{ stroke: "#333", strokeWidth: 1.5 }}
            tickSize={6}
            tickMargin={5}
            width={PLOT_LEFT}
            tick={tickStyle}
          />
          {minor.map((m) => (
            <ReferenceLine key={"mn" + m} y={m} stroke="#f0f0f0" strokeWidth={1.2} />
          ))}
          {ticks.map((m) => (
            <ReferenceLine key={"mj" + m} y={m} stroke="#ebebeb" strokeWidth={2.2} />
          ))}
          <ReferenceArea x1={0} x2={10} y1={band[0]} y2={band[1]} fill="#c8c8c8" fillOpacity={0.7} stroke="none" />
          {DAY_TICKS.map((d) => (
            <ReferenceLine key={"v" + d} x={d} stroke="#bdbdbd" strokeOpacity={0.85} strokeWidth={1.7} />
          ))}
          {series.map((s) => (
            <Line
              key={s.name}
              data={pts(s.data)}
              dataKey="v"
              type="linear"
              stroke={s.color}
              strokeWidth={s.width ?? 2.8}
              strokeLinejoin="round"
              dot={false}
              activeDot={false}
              isAnimationActive={false}
            />
          ))}
          {(marks || []).map((d) => (
            <Line
              key={"mark" + d}
              data={[
                { t: d, v: band[0] + (band[1] - band[0]) * 0.02 },
                { t: d, v: band[0] + (band[1] - band[0]) * 0.24 },
              ]}
              dataKey="v"
              stroke={C147}
              strokeWidth={2.5}
              dot={false}
              activeDot={false}
              isAnimationActive={false}
            />
          ))}
        </LineChart>
      </div>
      <div
        style={{
          position: "absolute",
          left: PLOT_LEFT,
          top,
          width: PLOT_W,
          height,
          border: "1.6px solid #333",
          boxSizing: "border-box",
          pointerEvents: "none",
        }}
      />
      <div
        style={{
          position: "absolute",
          left: 33,
          top: top + height / 2,
          transform: "translate(-50%, -50%) rotate(-90deg)",
          whiteSpace: "nowrap",
          fontSize: 28,
          color: "#111",
        }}
      >
        {label}
      </div>
      <div
        style={{
          position: "absolute",
          left: 1273,
          top: top + height / 2 - (legend.length * 29.5) / 2,
        }}
      >
        {legend.map((s) => (
          <div key={s.name} style={{ height: 29.5, display: "flex", alignItems: "center" }}>
            <div style={{ width: 23, height: 2.6, background: s.color, marginRight: 3 }} />
            <span style={{ fontSize: 18, color: "#111", whiteSpace: "nowrap" }}>{s.name}</span>
          </div>
        ))}
      </div>
    </>
  );
}

const SER_P = [{ name: "2.5m agl (Inst:642)", color: C25, data: P_25, width: 2.2 }];
const SER_RH = [
  { name: "2.5m agl (Inst:891)", color: C25, data: RH_25 },
  { name: "10m agl (Inst:892)", color: C10, data: RH_10 },
  { name: "76m agl (Inst:920)", color: C76, data: RH_76 },
  { name: "110m agl (Inst:1186)", color: C110, data: RH_110 },
  { name: "147m agl (Inst:922)", color: C147, data: RH_147, width: 3 },
];
const SER_T = [
  { name: "2.5m agl (Inst:891)", color: C25, data: T_25 },
  { name: "10m agl (Inst:892)", color: C10, data: T_10 },
  { name: "76m agl (Inst:920)", color: C76, data: T_76 },
  { name: "110m agl (Inst:1186)", color: C110, data: T_110 },
  { name: "147m agl (Inst:922)", color: C147, data: T_147, width: 3 },
];
const SER_WD = [
  { name: "10m agl (Inst:898)", color: C10, data: WD_10, width: 2.4 },
  { name: "76m agl (Inst:1574)", color: C76, data: WD_76, width: 2.4 },
  { name: "110m agl (Inst:899)", color: C110, data: WD_110, width: 2.6 },
  { name: "147m agl (Inst:1575)", color: C147, data: WD_147, width: 2.6 },
];
const SER_WS = [
  { name: "10m agl (Inst:898)", color: C10, data: WS_10, width: 3.6 },
  { name: "76m agl (Inst:1574)", color: C76, data: WS_76, width: 3 },
  { name: "110m agl (Inst:899)", color: C110, data: WS_110, width: 3 },
  { name: "147m agl (Inst:1575)", color: C147, data: WS_147, width: 2.8 },
];

const LOGO_LINES = ["Atmosphere", "Thematic", "Centre"];
const LOGO_DOTS = ["#e8336f", "#1c9fe0", "#e8336f"];

export default function App() {
  return (
    <div
      style={{
        position: "relative",
        width: 1500,
        height: 1725,
        background: "#fff",
        fontFamily: FONT,
        overflow: "hidden",
      }}
    >
      <style>{`body{margin:0}`}</style>

      {/* logo */}
      <div
        style={{
          position: "absolute",
          left: 12,
          top: 16,
          fontFamily: "'Open Sans', sans-serif",
          fontWeight: 700,
          fontSize: 70,
          letterSpacing: 1,
          color: "#404040",
          lineHeight: "86px",
        }}
      >
        ICOS
      </div>
      <div style={{ position: "absolute", left: 193, top: 17, width: 2, height: 86, background: "#555" }} />
      {LOGO_DOTS.map((c, i) => (
        <div
          key={i}
          style={{
            position: "absolute",
            left: 212 + i * 14.5,
            top: 17,
            width: 10,
            height: 10,
            borderRadius: 5,
            background: c,
          }}
        />
      ))}
      {LOGO_LINES.map((t, i) => (
        <div
          key={t}
          style={{
            position: "absolute",
            left: 211,
            top: 33 + i * 18.5,
            height: 18,
            fontFamily: FONT,
            fontWeight: 700,
            fontSize: 16,
            lineHeight: "18px",
            color: "#555",
          }}
        >
          {t}
        </div>
      ))}

      {/* titles */}
      <div style={{ position: "absolute", left: 0, width: 1500, top: 24, textAlign: "center", fontSize: 41, lineHeight: "48px", color: "#111" }}>
        TOH - Meteo - Last 10 days snapshot
      </div>
      <div style={{ position: "absolute", left: 0, width: 1500, top: 89, textAlign: "center", fontSize: 30, lineHeight: "36px", color: "#111" }}>
        2025-12-04 - 2025-12-14
      </div>
      <div style={{ position: "absolute", left: PLOT_LEFT, width: PLOT_W, top: 130, textAlign: "center", fontSize: 30, lineHeight: "36px", color: "#111" }}>
        Ambient air (minute data)
      </div>
      <div style={{ position: "absolute", right: 17, top: 12, textAlign: "right", fontSize: 20, lineHeight: "24px", color: "#111" }}>
        P0005.3 / plot generated everyday
        <br />
        update&nbsp; 2025-12-14 06:15
      </div>

      <Panel
        top={179}
        height={197}
        domain={[908.2, 933.9]}
        ticks={[910, 915, 920, 925, 930]}
        minor={[912.5, 917.5, 922.5, 927.5, 932.5]}
        band={[909.5, 910.5]}
        series={SER_P}
        legend={SER_P}
        label="Atm. Pressure (hPa)"
      />
      <Panel
        top={421}
        height={254}
        domain={[-24.1, 105.6]}
        ticks={[0, 25, 50, 75, 100]}
        minor={[-12.5, 12.5, 37.5, 62.5, 87.5]}
        band={[-18.5, 4.4]}
        series={SER_RH}
        legend={SER_RH}
        label="Rel. Humidity (%)"
      />
      <Panel
        top={721}
        height={254}
        domain={[-6.35, 11.73]}
        ticks={[-5, 0, 5, 10]}
        minor={[-2.5, 2.5, 7.5]}
        band={[-5.57, -2.37]}
        series={SER_T}
        legend={SER_T}
        label="Atm. Temperature (°C)"
      />
      <Panel
        top={1021}
        height={254}
        domain={[-112, 380]}
        ticks={WD_TICKS}
        minor={[-45, 45, 135, 225, 315]}
        band={[-91, -19.4]}
        series={SER_WD}
        legend={SER_WD}
        yFmt={(v) => WD_LABELS[WD_TICKS.indexOf(v)] ?? ""}
        marks={NODATA_147}
        label="Wind direction"
      />
      <Panel
        top={1321}
        height={254}
        domain={[-12.8, 43.3]}
        ticks={[-10, 0, 10, 20, 30, 40]}
        minor={[-5, 5, 15, 25, 35]}
        band={[-10.4, -2.2]}
        series={SER_WS}
        legend={SER_WS}
        marks={NODATA_147}
        label={
          <span>
            Wind speed (m.s<sup style={{ fontSize: 19 }}>−1</sup>)
          </span>
        }
      />

      {/* bottom legend */}
      <div style={{ position: "absolute", left: 178, top: 1631, fontSize: 26, lineHeight: "34px" }}>
        <div style={{ display: "flex", alignItems: "center" }}>
          <span style={{ color: "#4f8fd0", width: 53, fontSize: 22 }}>|</span>
          <span style={{ color: "#111" }}>Invalid data</span>
        </div>
        <div style={{ display: "flex", alignItems: "center", marginTop: 3 }}>
          <span style={{ color: "#111", width: 53, fontSize: 22 }}>|</span>
          <span style={{ color: "#111" }}>No data generated</span>
        </div>
      </div>
    </div>
  );
}
